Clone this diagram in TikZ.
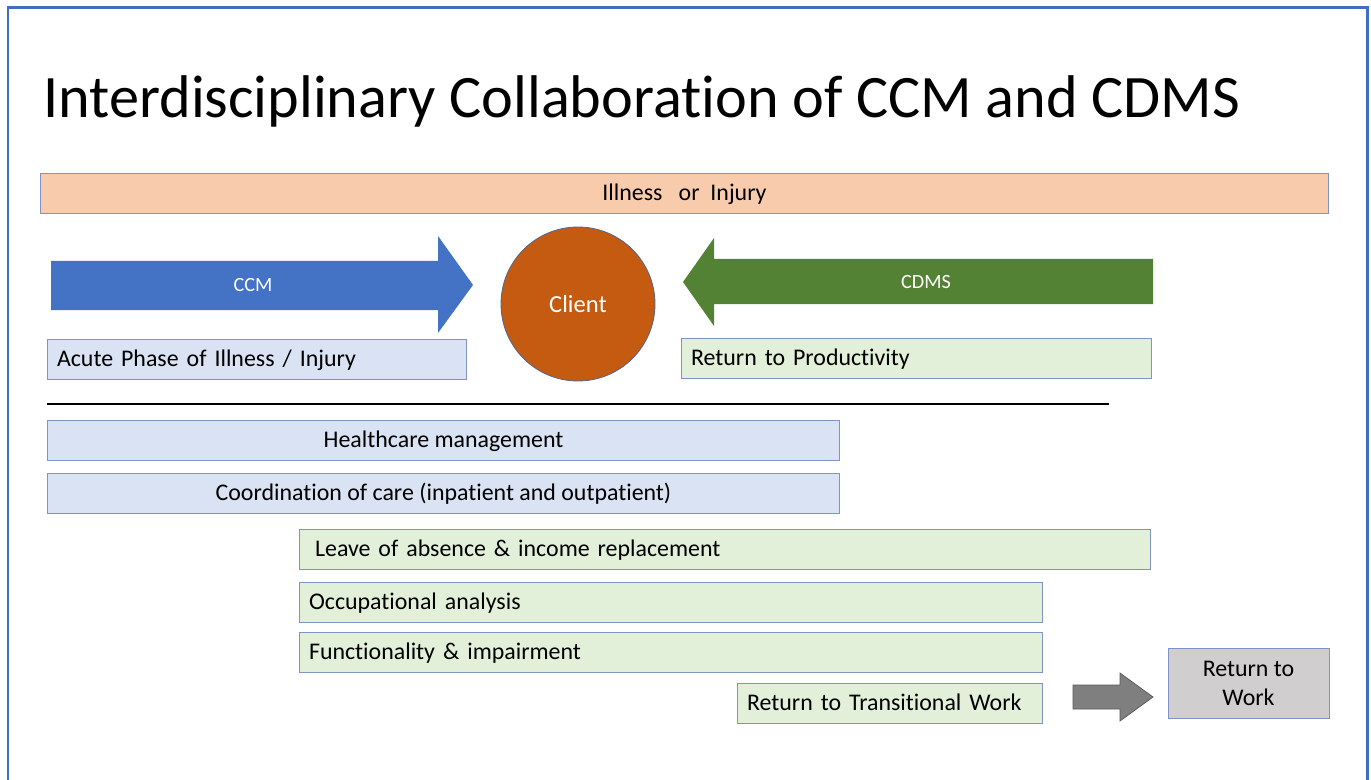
\documentclass[tikz,border=0pt]{standalone}
\usepackage{fontspec}
\setmainfont{Carlito}[Ligatures=CommonOff]
\usetikzlibrary{positioning,calc}

\definecolor{framecol}{HTML}{3F6FBF}
\definecolor{peach}{HTML}{F8CBAD}
\definecolor{ccmblue}{HTML}{4472C4}
\definecolor{cdmsgreen}{HTML}{548235}
\definecolor{clientorange}{HTML}{C55A11}
\definecolor{paleblue}{HTML}{DAE3F3}
\definecolor{palegreen}{HTML}{E2F0D9}
\definecolor{edgeblue}{HTML}{7F93C4}
\definecolor{rtwgray}{HTML}{D0CECE}
\definecolor{arrowgray}{HTML}{7F7F7F}

\begin{document}
\begin{tikzpicture}[x=0.02cm, y=-0.02cm,
    edge/.style={draw=edgeblue, line width=0.5pt, inner sep=0pt, font=\fontsize{13.6}{16.5}\selectfont},
    bar/.style={edge, minimum height=0.8cm, text height=0.38cm, text depth=0.08cm},
    cbox/.style={bar, minimum width=#1},
    lbox/.style={bar, inner xsep=0.2cm, text width=#1, align=left},
    label/.style={text=white, font=\fontsize{11.5}{14}\selectfont}
]
    \useasboundingbox (0,0) rectangle (1371,780);
    \draw[framecol, line width=0.06cm] (8,780) -- (8,8) -- (1367,8) -- (1367,780);

    \node[anchor=base west, inner sep=0pt, font=\fontsize{34.3}{40}\selectfont] (title) at (43,118)
        {Interdisciplinary Collaboration of CCM and CDMS};

    \node[cbox=25.78cm, fill=peach] (illness) at (684.5,193) {Illness~~~or~~Injury};

    % the two block arrows pointing at the client
    \fill[ccmblue] (51,261) -- (438,261) -- (438,236) -- (473,285) -- (438,333) -- (438,310) -- (51,310) -- cycle;
    \node[label] (ccm) at (253,285) {CCM};
    \fill[cdmsgreen] (1153,259) -- (714,259) -- (714,238) -- (683,282) -- (714,326) -- (714,304) -- (1153,304) -- cycle;
    \node[label] (cdms) at (926,282) {CDMS};

    \node[circle, draw=edgeblue!70!black, line width=0.5pt, fill=clientorange, minimum size=3.08cm,
          text=white, font=\fontsize{14}{17}\selectfont] (client) at (578,304) {Client};

    \node[lbox=7.98cm, fill=paleblue] (acute) at (256.5,359) {Acute Phase of Illness / Injury};
    \node[lbox=9cm, fill=palegreen] (prod) at (916,358) {Return to Productivity};

    \draw[line width=0.6pt] (47,404) -- (1109,404);

    \node[cbox=15.86cm, fill=paleblue] (health) at (443.5,440) {Healthcare management};
    \node[cbox=15.86cm, fill=paleblue] (coord) at (443.5,493) {Coordination of care (inpatient and outpatient)};
    \node[lbox=16.64cm, fill=palegreen] (leave) at (725,549) {\hspace{0.12cm}Leave of absence \& income replacement};
    \node[lbox=14.46cm, fill=palegreen] (occup) at (670.5,602) {Occupational analysis};
    \node[lbox=14.46cm, fill=palegreen] (func) at (670.5,652) {Functionality \& impairment};
    \node[lbox=5.7cm, fill=palegreen] (trans) at (889.5,703) {Return to Transitional Work};
    \node[edge, minimum width=3.22cm, minimum height=1.4cm, fill=rtwgray, align=center] (rtw)
        at (1248.5,683) {Return to\\Work};

    % grey block arrow from transitional work to return to work
    \filldraw[fill=arrowgray, draw=arrowgray!70!black, line width=0.4pt]
        (1073,685) -- (1120,685) -- (1120,673) -- (1153,697) -- (1120,721) -- (1120,709) -- (1073,709) -- cycle;
\end{tikzpicture}
\end{document}
